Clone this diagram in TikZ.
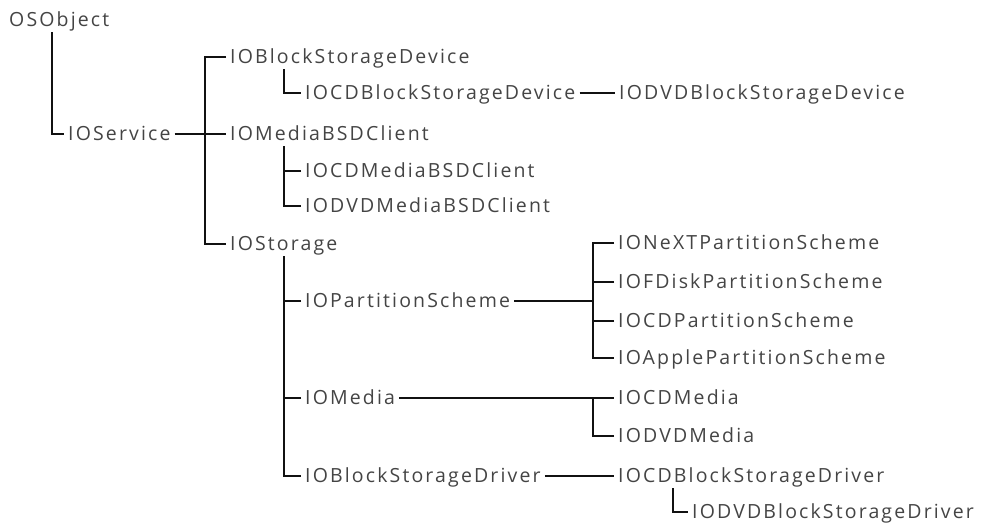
\documentclass[tikz,border=0pt]{standalone}
\usepackage{fontspec}
\usepackage{tikz}
\usetikzlibrary{positioning,calc}
\newfontfamily\treefont[LetterSpace=11]{Open Sans}
\definecolor{TreeText}{HTML}{444444}
\definecolor{TreeLine}{HTML}{111111}
\tikzset{
  classnode/.style={anchor=west,inner xsep=4pt,inner ysep=2pt,text height=16pt,text depth=4pt,text=TreeText,font=\treefont\fontsize{19.5}{22}\selectfont},
  treelink/.style={line width=1.8pt,draw=TreeLine}
}
\begin{document}
\begin{tikzpicture}[x=1pt,y=-1pt]
\useasboundingbox (0,0) rectangle (983,525);
\node[classnode] (osobj) at (5,20) {OSObject};
\node[classnode] (svc) at (64,134) {IOService};
\node[classnode] (dev) at (226,57) {IOBlockStorageDevice};
\node[classnode] (cddev) at (301,93) {IOCDBlockStorageDevice};
\node[classnode] (dvddev) at (615,93) {IODVDBlockStorageDevice};
\node[classnode] (mbsd) at (226,134) {IOMediaBSDClient};
\node[classnode] (cdmbsd) at (301,171) {IOCDMediaBSDClient};
\node[classnode] (dvdmbsd) at (301,206) {IODVDMediaBSDClient};
\node[classnode] (stor) at (226,244) {IOStorage};
\node[classnode] (part) at (301,301) {IOPartitionScheme};
\node[classnode] (media) at (301,398) {IOMedia};
\node[classnode] (drv) at (301,476) {IOBlockStorageDriver};
\node[classnode] (next) at (614,243) {IONeXTPartitionScheme};
\node[classnode] (fdisk) at (614,282) {IOFDiskPartitionScheme};
\node[classnode] (cdpart) at (614,321) {IOCDPartitionScheme};
\node[classnode] (apple) at (614,358) {IOApplePartitionScheme};
\node[classnode] (cdmed) at (614,398) {IOCDMedia};
\node[classnode] (dvdmed) at (614,436) {IODVDMedia};
\node[classnode] (cddrv) at (614,476) {IOCDBlockStorageDriver};
\node[classnode] (dvddrv) at (688,512) {IODVDBlockStorageDriver};
\coordinate (svcbus) at (205,134);
\coordinate (devbus) at ([xshift=58pt]dev.south west);
\coordinate (mbus) at ([xshift=58pt]mbsd.south west);
\coordinate (storbus) at ([xshift=58pt]stor.south west);
\coordinate (partbus) at (593,301);
\coordinate (medbus) at (593,398);
\coordinate (drvbus) at ([xshift=59pt]cddrv.south west);
\draw[treelink] ([xshift=47pt]osobj.south west) |- (svc.west);
\draw[treelink] (svc.east) -- (mbsd.west);
\draw[treelink] (dev.west) -| (svcbus) |- (stor.west);
\draw[treelink] (devbus) |- (cddev.west);
\draw[treelink] (cddev.east) -- (dvddev.west);
\draw[treelink] (mbus) |- (dvdmbsd.west);
\draw[treelink] (cdmbsd.west) -| (mbus);
\draw[treelink] (storbus) |- (drv.west);
\draw[treelink] (part.west) -| (storbus);
\draw[treelink] (media.west) -| (storbus);
\draw[treelink] (part.east) -- (partbus);
\draw[treelink] (next.west) -| (partbus) |- (apple.west);
\draw[treelink] (fdisk.west) -| (partbus);
\draw[treelink] (cdpart.west) -| (partbus);
\draw[treelink] (media.east) -- (cdmed.west);
\draw[treelink] (dvdmed.west) -| (medbus);
\draw[treelink] (drv.east) -- (cddrv.west);
\draw[treelink] (drvbus) |- (dvddrv.west);
\end{tikzpicture}
\end{document}
